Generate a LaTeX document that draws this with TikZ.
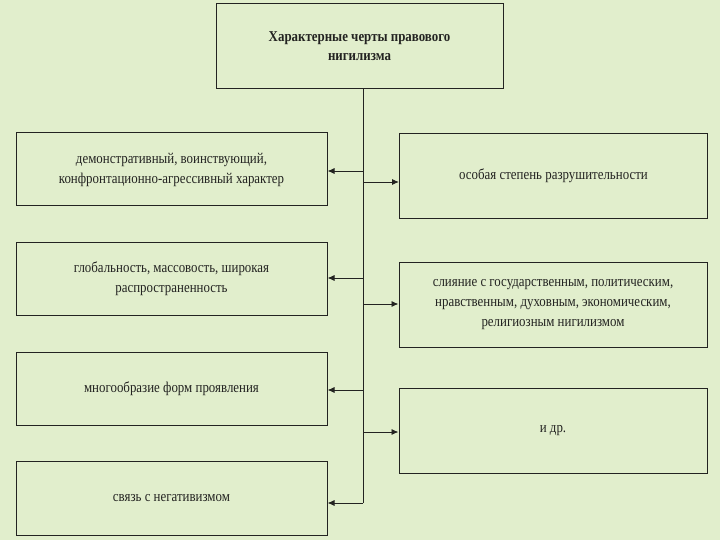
\documentclass[tikz,border=0pt]{standalone}
\usepackage{fontspec}
\setmainfont{Liberation Serif}[FakeStretch=0.86]
\usetikzlibrary{arrows.meta}
\definecolor{bg}{RGB}{225,238,204}
\definecolor{ink}{RGB}{35,35,33}
\tikzset{
  box/.style={draw=ink, line width=1pt, rectangle, align=center, inner sep=0pt,
    font=\fontsize{15}{20}\selectfont, text=ink},
  lbox/.style={box, minimum width=311pt, minimum height=73pt},
  rbox/.style={box, minimum width=308pt, minimum height=85pt},
  conn/.style={draw=ink, line width=0.9pt},
  arr/.style={conn, -{Latex[length=7pt,width=6pt]}}
}
\begin{document}
\begin{tikzpicture}[x=1pt,y=-1pt]
\fill[bg] (0,0) rectangle (720,540);
\useasboundingbox (0,0) rectangle (720,540);
\node[box, minimum width=287pt, minimum height=85pt, font=\bfseries\fontsize{15}{19}\selectfont] (top) at (359.5,46.5)
  {Характерные черты правового\\нигилизма};
\node[lbox] (l1) at (171.5,169.5) {демонстративный, воинствующий,\\конфронтационно-агрессивный характер};
\node[rbox] (r1) at (553.5,176) {особая степень разрушительности};
\node[lbox] (l2) at (171.5,278.5) {глобальность, массовость, широкая\\распространенность};
\node[rbox] (r2) at (553,304.5) {слияние с государственным, политическим,\\нравственным, духовным, экономическим,\\религиозным нигилизмом};
\node[lbox] (l3) at (171.5,389) {многообразие форм проявления};
\node[rbox] (r3) at (553,430.5) {и др.};
\node[lbox, minimum height=74pt] (l4) at (171.5,498) {связь с негативизмом};
\coordinate (tb) at (363,503);
\coordinate (a1) at (363,171);
\coordinate (b1) at (363,182);
\coordinate (a2) at (363,278);
\coordinate (b2) at (363,304);
\coordinate (a3) at (363,390);
\coordinate (b3) at (363,432);
\draw[conn] (top.south -| tb) -- (tb);
\draw[arr] (a1) -- (a1 -| l1.east);
\draw[arr] (b1) -- (b1 -| r1.west);
\draw[arr] (a2) -- (a2 -| l2.east);
\draw[arr] (b2) -- (b2 -| r2.west);
\draw[arr] (a3) -- (a3 -| l3.east);
\draw[arr] (b3) -- (b3 -| r3.west);
\draw[arr] (tb) -- (tb -| l4.east);
\end{tikzpicture}
\end{document}
